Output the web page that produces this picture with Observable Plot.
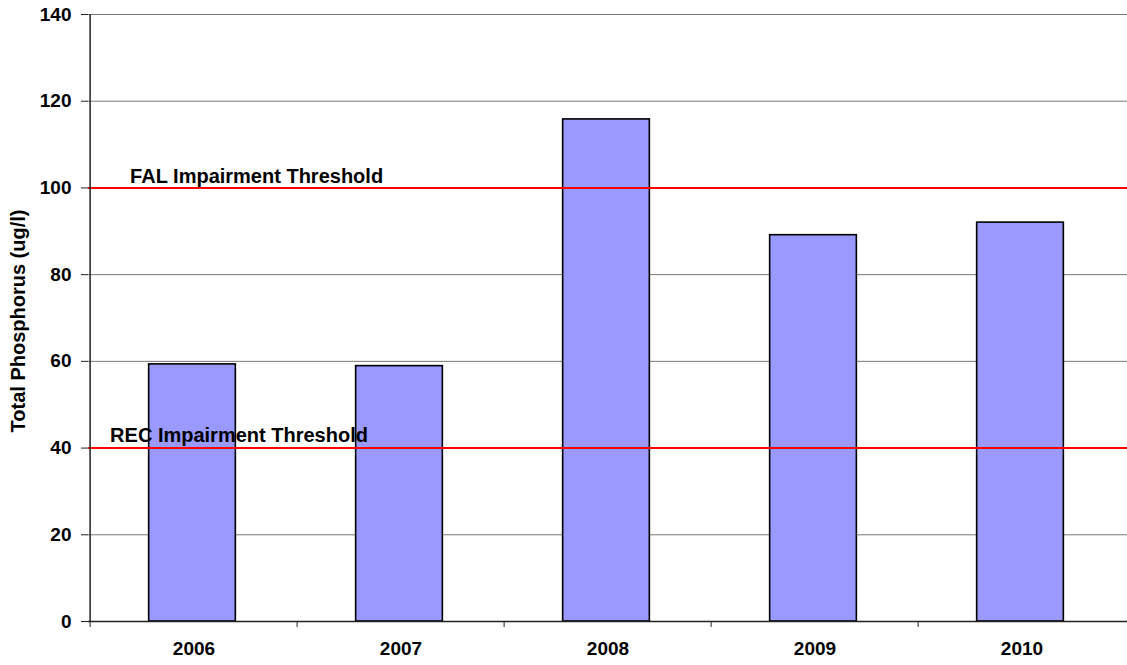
<!DOCTYPE html>
<html>
<head>
<meta charset="utf-8">
<script src="https://cdn.jsdelivr.net/npm/d3@7"></script>
<script src="https://cdn.jsdelivr.net/npm/@observablehq/plot@0.6"></script>
<style>
  html, body { margin: 0; padding: 0; background: #fff; }
  svg { display: block; }
</style>
</head>
<body>
<div id="chart"></div>
<script>
const years = ["2006", "2007", "2008", "2009", "2010"];
const phosphorus = [59.3, 58.9, 115.8, 89.1, 92.0];
const yTicks = [0, 20, 40, 60, 80, 100, 120, 140];
const thresholdNames = ["FAL Impairment Threshold", "REC Impairment Threshold"];
const thresholdValues = [100, 40];
const yLabel = "Total Phosphorus (ug/l)";

const data = years.map((y, i) => ({year: y, value: phosphorus[i]}));
const thresholds = thresholdNames.map((n, i) => ({name: n, value: thresholdValues[i]}));

const W = 1127, H = 665;
const mL = 88, mR = 0, mT = 14, mB = 44;
const step = (W - mL - mR) / years.length;
const barInset = (step - 87.5) / 2;
const font = "Liberation Sans, Arial, sans-serif";

const chart = Plot.plot({
  width: W,
  height: H,
  marginLeft: mL,
  marginRight: mR,
  marginTop: mT,
  marginBottom: mB,
  style: {fontFamily: font, fontWeight: "bold", fontSize: "19px", color: "#000", background: "#fff"},
  x: {domain: years, padding: 0},
  y: {domain: [0, 140], label: null},
  marks: [
    Plot.gridY(yTicks.filter(d => d > 0), {stroke: "#777", strokeOpacity: 1, strokeWidth: 1}),
    Plot.barY(data, {x: "year", y: "value", fill: "#9999FF", stroke: "#000", strokeWidth: 1.6, insetLeft: barInset, insetRight: barInset, dx: -1.5}),
    Plot.ruleY(thresholds, {y: "value", stroke: "#FF0000", strokeWidth: 2}),
    Plot.text(thresholds.slice(0, 1), {y: "value", x: () => years[0], text: "name", textAnchor: "start", dx: -step/2 + 40, dy: -11, fontSize: 20, fontWeight: "bold", fill: "#000"}),
    Plot.text(thresholds.slice(1), {y: "value", x: () => years[0], text: "name", textAnchor: "start", dx: -step/2 + 20, dy: -12, fontSize: 20, fontWeight: "bold", fill: "#000"}),
    Plot.ruleY([0], {stroke: "#222", strokeWidth: 1.5}),
    Plot.ruleX([0], {x: () => years[0], dx: -step/2, stroke: "#222", strokeWidth: 1.5}),
    Plot.axisY({ticks: yTicks, tickSize: 7, tickPadding: 10, label: null, stroke: "#222", fill: "#000", fontSize: 19, fontWeight: "bold"}),
    Plot.axisX({tickSize: 6, tickFormat: () => "", dx: -step/2, stroke: "#222", label: null}),
    Plot.axisX({tickSize: 0, tickPadding: 20, label: null, fill: "#000", fontSize: 19, fontWeight: "bold"}),
    Plot.text([yLabel], {text: d => d, frameAnchor: "left", textAnchor: "middle", rotate: -90, dx: -70, dy: 3, fontSize: 20, fontWeight: "bold", fill: "#000"})
  ]
});
document.getElementById("chart").appendChild(chart);
</script>
</body>
</html>
